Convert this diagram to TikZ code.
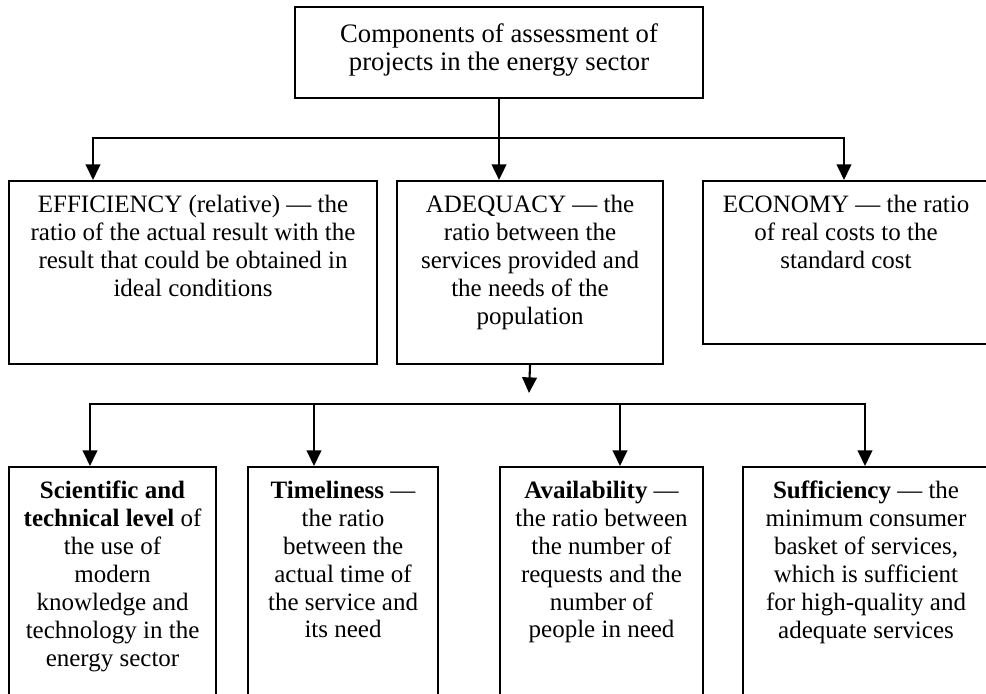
\documentclass[tikz,border=0pt]{standalone}
\usepackage{fontspec}
\setmainfont{Liberation Serif}
\usepackage{tikz}
\usetikzlibrary{positioning}
\usetikzlibrary{arrows.meta}
\newcommand{\unitpx}{0.48pt}
\newcommand{\gaptext}{7pt}
\tikzset{
    common/.style={draw, rectangle, anchor=north west, line width=1pt, inner sep=0pt},
    block/.style={common, minimum width=#1*\unitpx},
    txt/.style={align=center, inner sep=0pt, font=\fontsize{12}{13.4}\selectfont},
    toptxt/.style={txt, font=\fontsize{12.8}{13.4}\selectfont},
    arr/.style={-{Triangle[width=7pt,length=7.5pt]}, line width=1pt, line cap=rect},
    bus/.style={line width=1pt, line cap=rect}
}

\begin{document}
\begin{tikzpicture}[x=\unitpx, y=-\unitpx]
      \useasboundingbox (0,0) rectangle (986,694);
      \clip (0,0) rectangle (986,694);

      % top box
      \node[block=408, minimum height=91*\unitpx] (top) at (294,6) {};
      \node[toptxt, below=8.5pt of top.north] (top-text)
          {Components of assessment of\\ projects in the energy sector};

      % second row
      \path
          node[block=368, minimum height=183*\unitpx] (eff) at (8,180) {}
          node[block=266, minimum height=183*\unitpx] (adeq) at (396,180) {}
          node[block=286, minimum height=163*\unitpx] (econ) at (702,180) {};

      \node[txt, below=\gaptext of eff.north] (eff-text)
          {EFFICIENCY (relative) --- the\\ ratio of the actual result with the\\ result that could be obtained in\\ ideal conditions};
      \node[txt, below=\gaptext of adeq.north] (adeq-text)
          {ADEQUACY --- the\\ ratio between the\\ services provided and\\ the needs of the\\ population};
      \node[txt, below=\gaptext of econ.north] (econ-text)
          {ECONOMY --- the ratio\\ of real costs to the\\ standard cost};

      % third row
      \path
          node[block=207, minimum height=280*\unitpx] (sci) at (8,466) {}
          node[block=190, minimum height=280*\unitpx] (time) at (247,466) {}
          node[block=203, minimum height=280*\unitpx] (avail) at (499,466) {}
          node[block=246, minimum height=280*\unitpx] (suff) at (742,466) {};

      \node[txt, below=\gaptext of sci.north] (sci-text)
          {\textbf{Scientific and}\\ \textbf{technical level} of\\ the use of\\ modern\\ knowledge and\\ technology in the\\ energy sector};
      \node[txt, below=\gaptext of time.north] (time-text)
          {\textbf{Timeliness} ---\\ the ratio\\ between the\\ actual time of\\ the service and\\ its need};
      \node[txt, below=\gaptext of avail.north] (avail-text)
          {\textbf{Availability} ---\\ the ratio between\\ the number of\\ requests and the\\ number of\\ people in need};
      \node[txt, below=\gaptext of suff.north] (suff-text)
          {\textbf{Sufficiency} --- the\\ minimum consumer\\ basket of services,\\ which is sufficient\\ for high-quality and\\ adequate services};

      % connectors
      \coordinate (bus-a-left) at (93,138);
      \coordinate (bus-a-right) at (844,138);
      \draw[bus] (bus-a-left) -- (bus-a-right);
      \draw[arr] (top.south) -- (top.south |- eff.north);
      \draw[arr] (bus-a-left) -- (bus-a-left |- eff.north);
      \draw[arr] (bus-a-right) -- (bus-a-right |- econ.north);

      \coordinate (adeq-tip) at (529,393);
      \draw[arr] (adeq.south) -- (adeq-tip);

      \coordinate (bus-b-left) at (90,404);
      \coordinate (bus-b-right) at (865,404);
      \draw[bus] (bus-b-left) -- (bus-b-right);
      \foreach \x/\n in {90/sci, 314/time, 620/avail, 865/suff} {
          \coordinate (b-\n) at (\x,404);
          \draw[arr] (b-\n) -- (b-\n |- \n.north);
      }
\end{tikzpicture}
\end{document}
